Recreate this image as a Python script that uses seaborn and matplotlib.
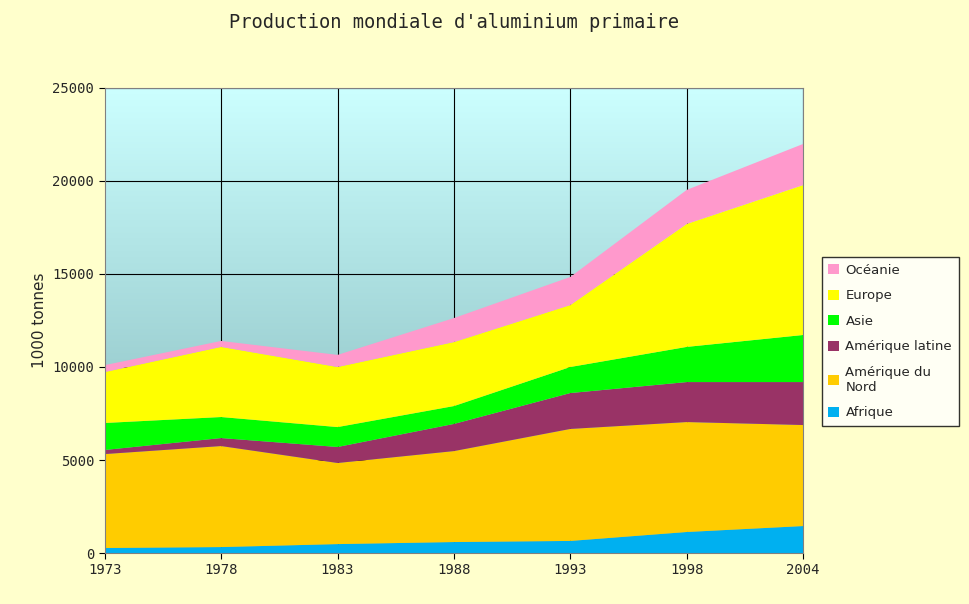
import numpy as np
import matplotlib
matplotlib.use('Agg')
import matplotlib.pyplot as plt
import seaborn as sns
from matplotlib.colors import LinearSegmentedColormap

years = ['1973', '1978', '1983', '1988', '1993', '1998', '2004']
afrique = [270, 320, 480, 590, 650, 1130, 1450]
amerique_nord = [5050, 5430, 4360, 4890, 6020, 5910, 5430]
amerique_latine = [220, 430, 860, 1460, 1930, 2150, 2310]
asie = [1450, 1130, 1070, 960, 1400, 1890, 2530]
europe = [2740, 3770, 3230, 3440, 3330, 6610, 8060]
oceanie = [370, 320, 650, 1290, 1510, 1830, 2210]

names = ['Afrique', 'Amérique du\nNord', 'Amérique latine', 'Asie', 'Europe', 'Océanie']
colors = ['#00b0f0', '#ffcc00', '#993366', '#00ff00', '#ffff00', '#ff99cc']

sns.set_style('white')
fig = plt.figure(figsize=(9.7, 6.04), dpi=100, facecolor='#ffffcc')
ax = fig.add_axes([0.108, 0.0844, 0.72, 0.77])

x = np.arange(len(years))
cmap = LinearSegmentedColormap.from_list('bg', ['#7fb2b5', '#ccffff'])
ax.imshow(np.linspace(0, 1, 256).reshape(-1, 1), cmap=cmap, origin='lower',
          extent=[0, 6, 0, 25000], aspect='auto', zorder=0)

polys = ax.stackplot(x, afrique, amerique_nord, amerique_latine, asie, europe, oceanie,
                     colors=colors, edgecolor='none', zorder=2)
ax.set_xlim(0, 6)
ax.set_ylim(0, 25000)
ax.set_xticks(x)
ax.set_xticklabels(years)
ax.set_yticks(range(0, 25001, 5000))
for v in range(5000, 25001, 5000):
    ax.axhline(v, color='black', lw=0.8, zorder=1)
for xi in x[1:]:
    ax.axvline(xi, color='black', lw=0.8, zorder=1)
for s in ax.spines.values():
    s.set_color('#808080')
ax.tick_params(axis='both', length=4, color='black', direction='out', bottom=True, left=True)
for lab in ax.get_xticklabels() + ax.get_yticklabels():
    lab.set_family('DejaVu Sans Mono')
    lab.set_fontsize(10)
ax.set_ylabel('1000 tonnes', fontsize=11, family='DejaVu Sans')
ax.set_title("Production mondiale d'aluminium primaire", family='DejaVu Sans Mono',
             fontsize=13.5, pad=43)

leg = fig.legend(polys[::-1], names[::-1], loc='upper left', bbox_to_anchor=(0.843, 0.581),
                 frameon=True, fancybox=False, edgecolor='black', fontsize=9.5,
                 handlelength=0.8, handleheight=0.8, labelspacing=0.95, borderpad=0.5,
                 handletextpad=0.5, borderaxespad=0.3)
leg.get_frame().set_facecolor('white')

fig.savefig('out.png', dpi=100, facecolor=fig.get_facecolor())
